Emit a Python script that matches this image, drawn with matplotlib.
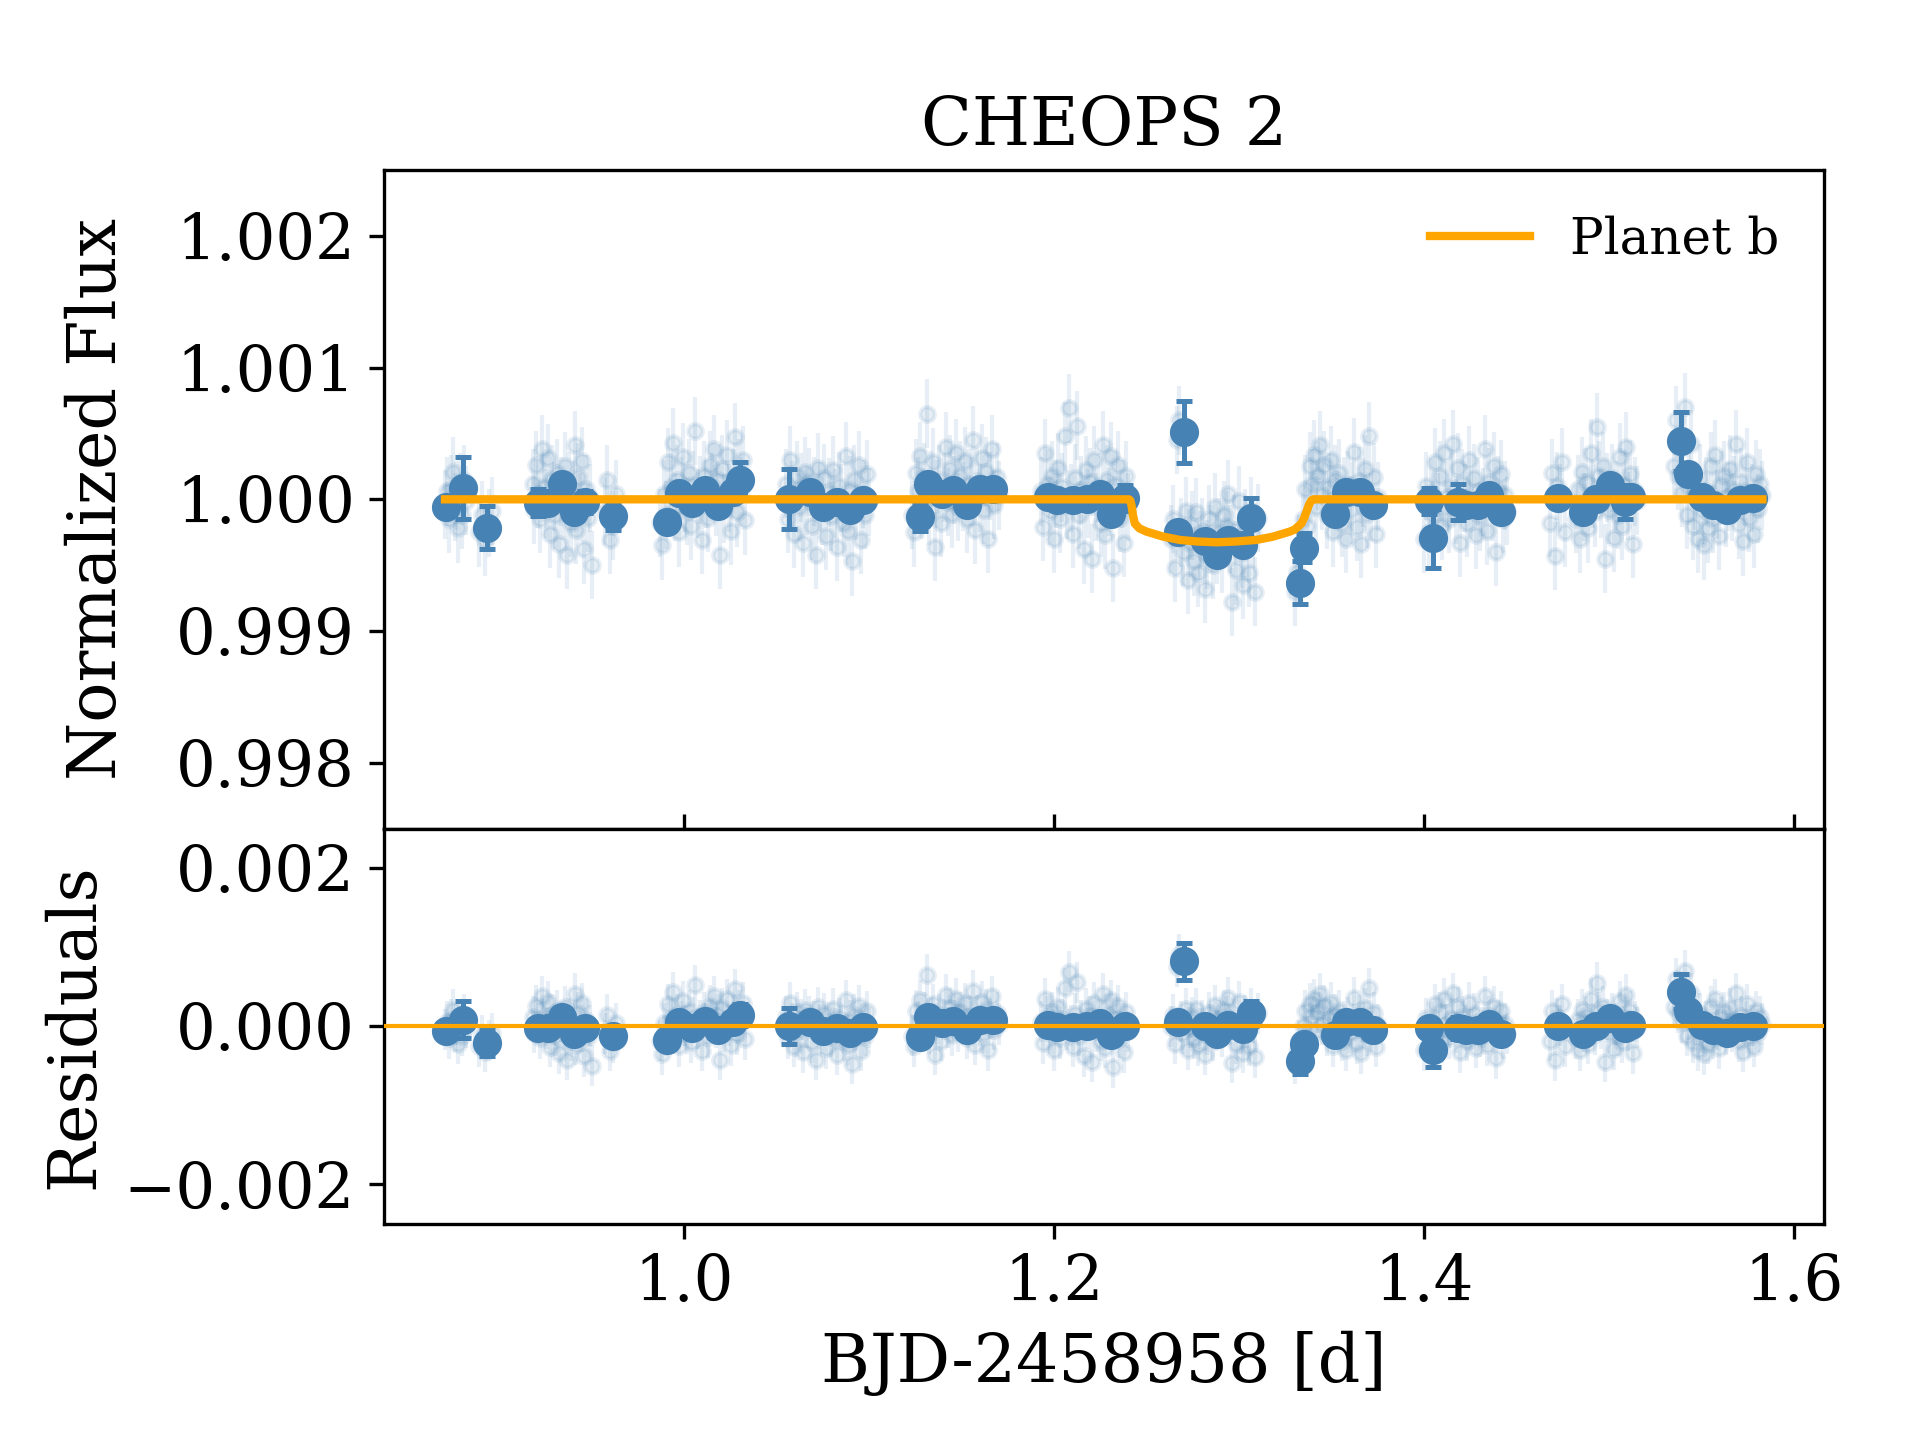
import numpy as np
import matplotlib
matplotlib.use("Agg")
import matplotlib.pyplot as plt

plt.rc('font', family='serif', size=16)

# raw photometry, one entry per CHEOPS orbit chunk: (start, end, flux offsets in ppm)
raw_chunks = [
    (0.8707, 0.8820, [-40, 60, -150, 80, 210, -60, 30, -220, 90, -120, 150, -10]),
    (0.8890, 0.8960, [-250, -120, -320, -180, -90]),
    (0.9180, 0.9500, [120, -80, 260, 40, -150, 380, 90, -30, 310, -260, 150,
                      20, -120, 200, -340, 60, -50, 250, -420, 100, -180, 30,
                      410, -230, 170, -60, 290, -380, 80, -140, 10, -500]),
    (0.9570, 0.9630, [-90, 150, -310, -200, 40]),
    (0.9870, 1.0330, [-180, -350, 40, -120, 280, 90, 430, -60, 150, -250, 60,
                      320, 10, -90, 200, -200, 110, 520, -30, 70, -310, 180,
                      40, -140, 260, 90, 380, -20, 150, -420, 230, -70, 340,
                      10, -240, 120, 470, -100, 200, 60, 300, -160]),
    (1.0550, 1.1000, [120, -150, 300, 30, -260, 180, -60, 90, -330, 210, -10,
                      130, -200, 60, -420, 240, 20, -90, 160, -280, 50, -130,
                      220, -30, -360, 100, 10, -180, 330, -240, 70, -470, 150,
                      -50, 260, -310, 40, -120, 190, -20]),
    (1.1230, 1.1700, [-120, -250, 200, 60, 330, -40, 170, 650, -90, 110, 280,
                      -360, 40, 150, -180, 90, 400, -20, 230, -110, 70, 350,
                      -60, 180, 20, 290, -150, 120, 60, 450, -230, 140, 10,
                      310, -80, 210, -300, 100, 380, -40, 170, 30]),
    (1.1930, 1.2400, [60, -210, 350, 120, -90, 180, -300, 40, 240, -150, 90,
                      480, -40, 690, 10, -260, 160, 560, -120, 70, -380, 220,
                      -30, 130, -450, 300, -60, 90, -180, 410, -270, 150, -20,
                      330, -520, 110, 260, -140, 40, -330, 180, -60]),
    (1.2630, 1.3100, [-300, -150, -520, 450, 600, -250, -400, -90, -610, -330,
                      -200, -470, -100, -560, -350, -250, -680, -420, -150,
                      -300, -500, -60, -380, -250, -450, -120, -200, 40, -300,
                      -780, -230, -540, -10, -410, -650, -180, -330, -560, -90,
                      -260, -700, -140]),
    (1.3300, 1.3750, [-700, -550, -380, -420, -150, 80, -200, 250, 120, 340,
                      -60, 180, 410, 30, 260, -120, 90, 300, -250, 150, -40,
                      200, -180, 60, -300, 110, -80, 20, 360, -210, 140, -340,
                      50, 230, -110, 480, -60, 170, -260, 20]),
    (1.4000, 1.4450, [-300, 100, -250, 50, -120, 280, -60, 180, -200, 350, 20,
                      -150, 90, 420, -80, 240, -330, 120, 10, -180, 300, -40,
                      160, -270, 60, -130, -20, 380, -240, 130, -60, 250, -400,
                      70, 190, -150, 30, -90]),
    (1.4680, 1.4760, [-180, 200, -430, 100, 10, 280, -250]),
    (1.4820, 1.5150, [-150, 80, -300, 210, -60, 130, -220, 350, 40, -100, 550,
                      180, -30, 250, -450, 90, -80, 160, -290, 30, -120, 320,
                      -200, 110, 400, -50, 190, -340, 60, -10]),
    (1.5350, 1.5829, [250, 600, 180, 380, 50, 700, -120, 90, 420, -200, 30,
                      -300, 160, -80, -350, 60, -220, 250, -150, 340, -40,
                      -280, 110, 180, -100, 20, 230, -60, 70, 420, -190, 130,
                      -320, 60, 280, -140, 10, -260, 190, -70, 120, 30]),
]
raw_err_ppm = 260

# binned points
bin_t = [0.8712, 0.8806, 0.8932, 0.9211, 0.9265, 0.9337, 0.9404, 0.9463, 0.9613,
         0.9908, 0.9973, 1.0043, 1.0112, 1.0184, 1.0265, 1.0301,
         1.0567, 1.0680, 1.0751, 1.0824, 1.0896, 1.0968,
         1.1274, 1.1319, 1.1391, 1.1454, 1.1527, 1.1598, 1.1670,
         1.1968, 1.2013, 1.2103, 1.2175, 1.2247, 1.2310, 1.2382,
         1.2670, 1.2701, 1.2815, 1.2878, 1.2940, 1.3022, 1.3062,
         1.3328, 1.3350, 1.3517, 1.3580, 1.3652, 1.3724,
         1.4027, 1.4049, 1.4184, 1.4229, 1.4292, 1.4350, 1.4418,
         1.4724, 1.4860, 1.4932, 1.5004, 1.5085, 1.5121,
         1.5388, 1.5427, 1.5500, 1.5562, 1.5635, 1.5707, 1.5778]
bin_ppm = [-57, 86, -215, -25, -25, 118, -95, -20, -125,
           -170, 50, -25, 68, -50, 55, 143,
           3, 55, -57, -20, -82, -8,
           -133, 118, 43, 68, -45, 80, 75,
           18, -8, -8, 5, 43, -108, 10,
           -245, 514, -320, -421, -308, -346, -145,
           -634, -366, -108, 55, 55, -40,
           -15, -295, -20, -45, -45, 30, -100,
           10, -100, 5, 110, -20, 18,
           439, 193, 18, -45, -82, -8, 10]
bin_err = [60, 235, 165, 105, 70, 70, 70, 85, 108,
           70, 70, 70, 70, 70, 70, 137,
           225, 70, 70, 70, 70, 70,
           108, 70, 70, 70, 70, 70, 70,
           70, 70, 70, 70, 70, 70, 100,
           70, 235, 70, 70, 70, 70, 158,
           163, 113, 70, 70, 70, 70,
           100, 225, 138, 70, 70, 70, 70,
           70, 70, 70, 70, 130, 70,
           225, 70, 70, 70, 70, 70, 70]

# transit model of planet b
model_t = [0.8707, 1.2405, 1.2412, 1.2418, 1.2426, 1.2436, 1.2460, 1.2499, 1.2589,
           1.2679, 1.2770, 1.2878, 1.2986, 1.3094, 1.3184, 1.3274, 1.3300, 1.3337,
           1.3352, 1.3364, 1.3378, 1.3391, 1.3400, 1.5829]
model_ppm = [0, 0, -10, -45, -120, -183, -220, -245, -283,
             -308, -320, -326, -320, -308, -283, -245, -230, -183,
             -140, -95, -40, -8, 0, 0]

raw_t = np.concatenate([np.linspace(a, b, len(v)) for a, b, v in raw_chunks])
raw_f = 1 + np.concatenate([v for a, b, v in raw_chunks]) * 1e-6
m_t = np.array(model_t)
m_f = 1 + np.array(model_ppm) * 1e-6
b_t = np.array(bin_t)
b_f = 1 + np.array(bin_ppm) * 1e-6
b_e = np.array(bin_err) * 1e-6

raw_res = raw_f - np.interp(raw_t, m_t, m_f)
bin_res = b_f - np.interp(b_t, m_t, m_f)

fig = plt.figure(figsize=(6.4, 4.8), dpi=300)
gs = fig.add_gridspec(2, 1, height_ratios=[5, 3], hspace=0,
                      left=0.2, right=0.95, top=0.882, bottom=0.15)
ax1 = fig.add_subplot(gs[0])
ax2 = fig.add_subplot(gs[1], sharex=ax1)

col = 'steelblue'
ax1.errorbar(raw_t, raw_f, yerr=raw_err_ppm * 1e-6, fmt='o', ms=3.5, color=col,
             alpha=0.13, elinewidth=1, zorder=1)
ax1.errorbar(b_t, b_f, yerr=b_e, fmt='o', ms=6, color=col, elinewidth=1.2,
             capsize=2, capthick=1.2, zorder=2)
ax1.plot(m_t, m_f, color='orange', lw=2, label='Planet b', zorder=3)
ax1.set_ylim(0.9975, 1.0025)
ax1.set_yticks([0.998, 0.999, 1.000, 1.001, 1.002])
ax1.set_ylabel('Normalized Flux', labelpad=11)
ax1.set_title('CHEOPS 2', fontsize=16)
ax1.tick_params(axis='x', direction='in', labelbottom=False)
ax1.tick_params(axis='y', labelsize=15)
ax1.legend(loc='upper right', frameon=False, fontsize=12)

ax2.errorbar(raw_t, raw_res, yerr=raw_err_ppm * 1e-6, fmt='o', ms=3.5, color=col,
             alpha=0.13, elinewidth=1, zorder=1)
ax2.errorbar(b_t, bin_res, yerr=b_e, fmt='o', ms=6, color=col, elinewidth=1.2,
             capsize=2, capthick=1.2, zorder=2)
ax2.axhline(0, color='orange', lw=1, zorder=3)
ax2.set_ylim(-0.0025, 0.0025)
ax2.set_yticks([-0.002, 0.000, 0.002])
ax2.set_ylabel('Residuals')
ax2.set_xlabel('BJD-2458958 [d]')
ax2.set_xlim(0.8377, 1.6162)
ax2.set_xticks([1.0, 1.2, 1.4, 1.6])
ax2.tick_params(labelsize=15)

plt.savefig('out.png', dpi=300)
